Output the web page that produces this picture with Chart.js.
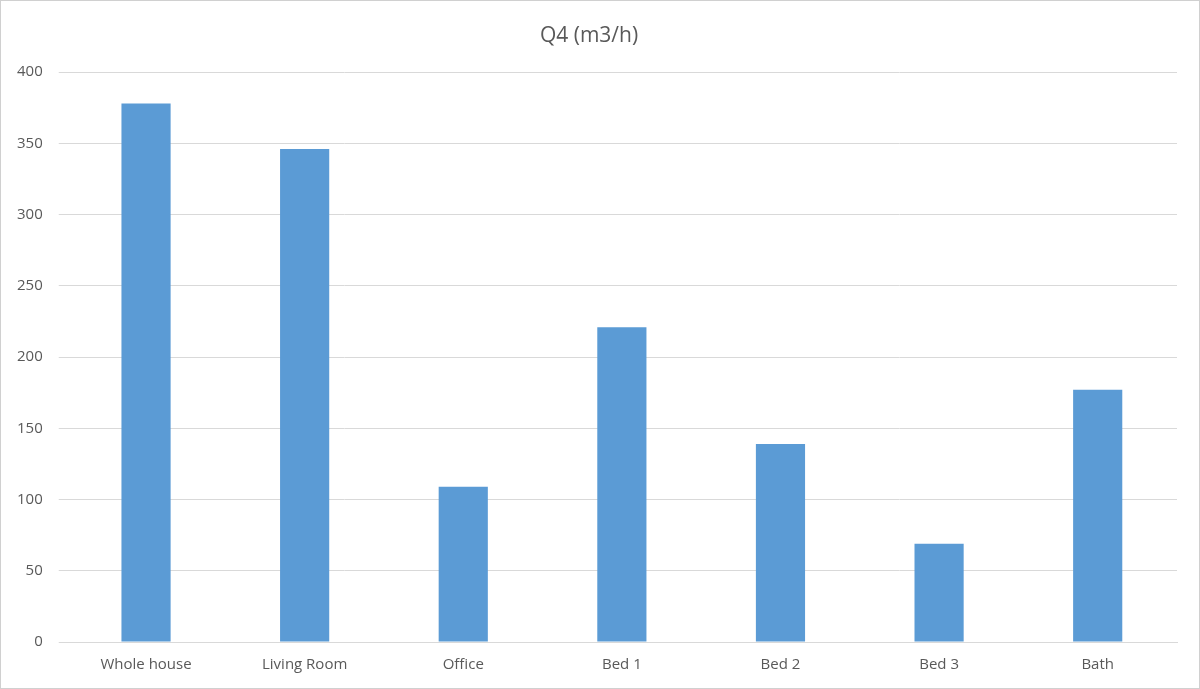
<!DOCTYPE html>
<html><head><meta charset="utf-8">
<script src="https://cdn.jsdelivr.net/npm/chart.js@4"></script>
<style>
html,body{margin:0;padding:0;background:#fff;}
#wrap{position:absolute;left:0;top:0;width:1198px;height:687px;border:1px solid #d0d0d0;}
canvas{position:absolute;left:0;top:0;}
</style></head><body>
<div id="wrap"><canvas id="c" width="1198" height="687"></canvas></div>
<script>
const categories = ["Whole house","Living Room","Office","Bed 1","Bed 2","Bed 3","Bath"];
const q4Values = [378, 346, 109, 221, 139, 69, 177];
const chartTitle = "Q4 (m3/h)";

new Chart(document.getElementById('c'), {
  type: 'bar',
  data: { labels: categories, datasets: [{ data: q4Values, backgroundColor: '#5b9bd5', barPercentage: 0.62, categoryPercentage: 0.5 }] },
  options: {
    responsive: false, devicePixelRatio: 1, animation: false,
    layout: { padding: { left: 0, right: 22, top: 0, bottom: 8 } },
    plugins: {
      legend: { display: false }, tooltip: { enabled: false },
      title: { display: true, text: chartTitle, color: '#595959', font: { family: 'Open Sans', size: 21, weight: 'normal' }, padding: { top: 22, bottom: 24 } }
    },
    scales: {
      x: { grid: { display: false }, border: { color: '#d9d9d9' },
           ticks: { color: '#595959', font: { family: 'Open Sans', size: 15 }, padding: 6 } },
      y: { min: 0, max: 400, grid: { color: '#d9d9d9' }, border: { display: false },
           ticks: { stepSize: 50, color: '#595959', font: { family: 'Open Sans', size: 15 }, padding: 16 } }
    }
  }
});
</script></body></html>
